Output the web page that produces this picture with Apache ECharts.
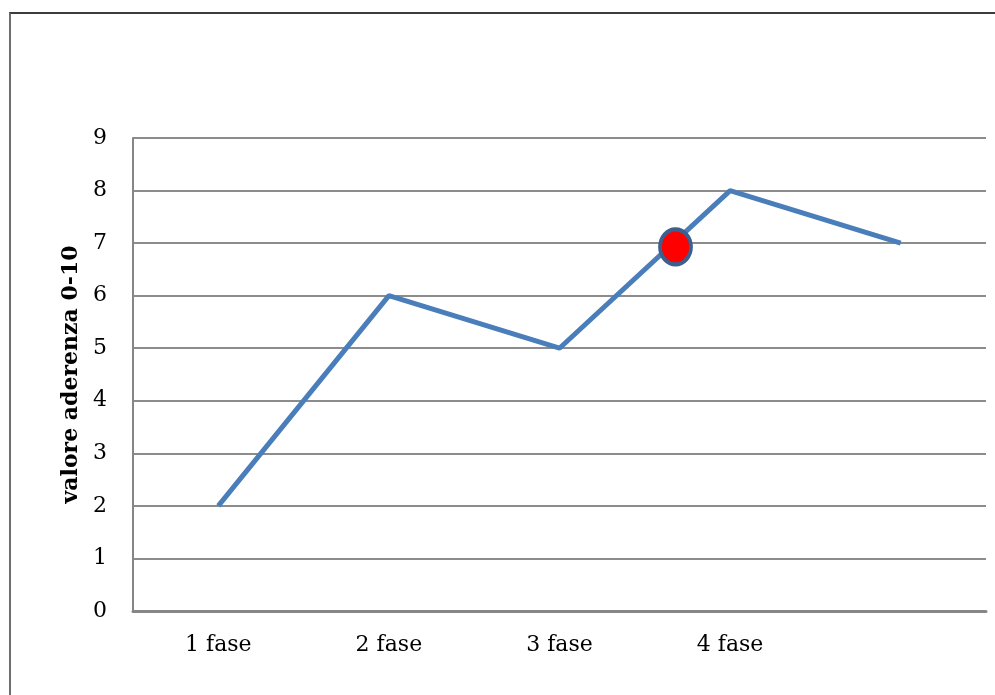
<!DOCTYPE html>
<html>
<head>
<meta charset="utf-8">
<script src="https://cdn.jsdelivr.net/npm/echarts@6/dist/echarts.min.js"></script>
<style>
  html, body { margin: 0; padding: 0; background: #fff; }
  #frame {
    position: absolute; left: 9px; top: 12px; width: 990px; height: 690px;
    border-top: 2px solid #3c3c3c; border-left: 2px solid #6e6e6e;
  }
  #main { position: absolute; left: 0; top: 0; width: 995px; height: 695px; }
</style>
</head>
<body>
<div id="frame"></div>
<div id="main"></div>
<script>
var categories = ['1 fase', '2 fase', '3 fase', '4 fase', ''];
var aderenza = [2, 6, 5, 8, 7];
var yTicks = [0, 1, 2, 3, 4, 5, 6, 7, 8, 9];
// punto rosso, posizione sull'asse lungo (0..5) e valore
var markerX = [3.18];
var markerY = [6.93];

var serif = 'DejaVu Serif';

var option = {
  animation: false,
  grid: { left: 133, right: 9, top: 138, bottom: 84 },
  xAxis: [
    {
      type: 'category',
      data: categories,
      boundaryGap: true,
      axisTick: { show: false },
      axisLine: { lineStyle: { color: '#868686', width: 3 } },
      axisLabel: { color: '#000', fontFamily: serif, fontSize: 22, margin: 23 }
    },
    {
      type: 'value',
      min: 0,
      max: categories.length,
      show: false
    }
  ],
  yAxis: {
    type: 'value',
    min: yTicks[0],
    max: yTicks[yTicks.length - 1],
    interval: 1,
    name: 'valore aderenza 0-10',
    nameLocation: 'middle',
    nameGap: 47,
    nameRotate: 90,
    nameTextStyle: { color: '#000', fontFamily: serif, fontWeight: 'bold', fontSize: 22 },
    axisLine: { show: true, lineStyle: { color: '#868686', width: 2 } },
    axisTick: { show: false },
    axisLabel: { color: '#000', fontFamily: serif, fontSize: 22, margin: 26 },
    splitLine: { lineStyle: { color: '#8c8c8c', width: 2 } }
  },
  series: [
    {
      type: 'line',
      data: aderenza,
      xAxisIndex: 0,
      showSymbol: false,
      lineStyle: { color: '#4a7ebb', width: 5 }
    },
    {
      type: 'scatter',
      xAxisIndex: 1,
      data: markerX.map(function (x, i) { return [x, markerY[i]]; }),
      symbol: 'circle',
      symbolSize: [31, 35],
      itemStyle: { color: '#ff0000', borderColor: '#3b5f8e', borderWidth: 4, opacity: 1 },
      z: 5
    }
  ]
};

var chart = echarts.init(document.getElementById('main'));
chart.setOption(option);
</script>
</body>
</html>
